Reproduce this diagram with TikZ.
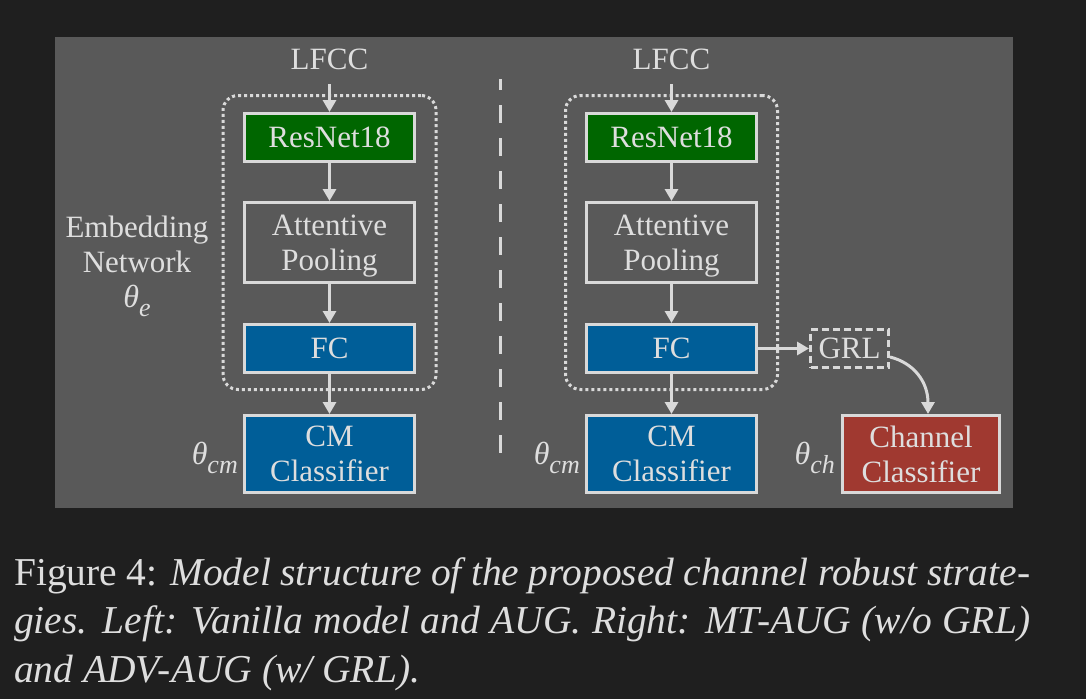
\documentclass[tikz,border=0pt]{standalone}
\usepackage{fontspec}
\setmainfont{Liberation Serif}
\usetikzlibrary{arrows.meta}
\definecolor{bgdark}{RGB}{31,31,31}
\definecolor{panel}{RGB}{89,89,89}
\definecolor{lineg}{RGB}{217,217,217}
\definecolor{txt}{RGB}{222,222,222}
\definecolor{resgreen}{RGB}{0,102,0}
\definecolor{fcblue}{RGB}{0,94,152}
\definecolor{chred}{RGB}{160,57,48}
\newcommand\thsub[1]{{\fontsize{32}{35}\selectfont\textit{θ}}\raisebox{-9pt}{\fontsize{26}{26}\selectfont\textit{#1}}}
\newcommand\nodepth[1]{\raisebox{0pt}[\height][0pt]{#1}}
\begin{document}
\begin{tikzpicture}[x=1pt,y=-1pt,
  font=\fontsize{31}{35}\selectfont,
  box/.style={draw=lineg, line width=3pt, text=txt, minimum width=170pt, inner sep=0pt, align=center},
  arr/.style={draw=lineg, line width=3pt, -{Triangle[width=13pt,length=12pt]}},
  lbl/.style={text=txt, inner sep=0pt},
  embed/.style={draw=lineg, line width=3pt, dash pattern=on 3pt off 3pt, rounded corners=15pt, minimum width=213pt, minimum height=294pt, inner sep=0pt},
  grlbox/.style={draw=lineg, line width=3pt, dash pattern=on 7pt off 4pt, text=txt, minimum width=78pt, minimum height=38pt, inner sep=0pt},
]
\fill[bgdark] (0,0) rectangle (1086,699);
\fill[panel] (55,37) rectangle (1013,508);
\useasboundingbox (0,0) rectangle (1086,699);

% ---------- left ----------
\node[embed] (emb1) at (329.5,242.5) {};
\node[lbl, anchor=base] (lfcc1) at (329.5,69) {LFCC};
\node[box, fill=resgreen, minimum height=48pt] (res1) at (329.5,137.5) {ResNet18};
\node[box, minimum height=80pt] (att1) at (329.5,242.5) {Attentive\\\nodepth{Pooling}};
\node[box, fill=fcblue, minimum height=48pt] (fc1) at (329.5,348.5) {FC};
\node[box, fill=fcblue, minimum height=77pt] (cm1) at (329.5,454) {CM\\Classifier};
\draw[arr] ([yshift=-15pt]lfcc1.base) -- (res1);
\draw[arr] (res1) -- (att1);
\draw[arr] (att1) -- (fc1);
\draw[arr] (fc1) -- (cm1);
\node[lbl, anchor=base] (embtxt) at (137,237) {\begin{tabular}[t]{@{}c@{}}Embedding\\Network\\\thsub{e}\end{tabular}};
\node[lbl, anchor=base east] (thcm1) at (238,464) {\thsub{cm}};

% ---------- divider ----------
\coordinate (dtop) at (500,79);
\coordinate (dbot) at (500,454);
\draw[lineg, line width=3pt, dash pattern=on 18pt off 15pt, dash phase=7pt] (dtop) -- (dbot);

% ---------- right ----------
\node[embed, minimum width=212pt] (emb2) at (671.5,242.5) {};
\node[lbl, anchor=base] (lfcc2) at (671.5,69) {LFCC};
\node[box, fill=resgreen, minimum height=48pt] (res2) at (671.5,137.5) {ResNet18};
\node[box, minimum height=80pt] (att2) at (671.5,242.5) {Attentive\\\nodepth{Pooling}};
\node[box, fill=fcblue, minimum height=48pt] (fc2) at (671.5,348.5) {FC};
\node[box, fill=fcblue, minimum height=77pt] (cm2) at (671.5,454) {CM\\Classifier};
\draw[arr] ([yshift=-15pt]lfcc2.base) -- (res2);
\draw[arr] (res2) -- (att2);
\draw[arr] (att2) -- (fc2);
\draw[arr] (fc2) -- (cm2);
\node[lbl, anchor=base east] (thcm2) at (580,464) {\thsub{cm}};

\node[grlbox] (grl) at (849.5,348.5) {GRL};
\node[box, fill=chred, minimum width=157pt, minimum height=77pt] (ch) at (921,454) {Channel\\Classifier};
\node[lbl, anchor=base east] (thch) at (835,464) {\thsub{ch}};
\draw[arr] (fc2) -- (grl);
\draw[arr] ([yshift=-8.5pt]grl.east) .. controls +(24,6) and +(0,-32) .. ([xshift=7pt]ch.north);

% ---------- caption ----------
\begin{scope}[every node/.style={anchor=base west, text=txt, inner sep=0pt, font=\fontsize{39.5}{48}\selectfont}]
\node (cap1) at (14,585) {\makebox[1016pt][s]{Figure 4: \textit{Model structure of the proposed channel robust strate-}}};
\node (cap2) at (14,633) {\makebox[1016pt][s]{\textit{gies. Left: Vanilla model and AUG. Right: MT-AUG (w/o GRL)}}};
\node (cap3) at (14,682) {\textit{and ADV-AUG (w/ GRL).}};
\end{scope}
\end{tikzpicture}
\end{document}
